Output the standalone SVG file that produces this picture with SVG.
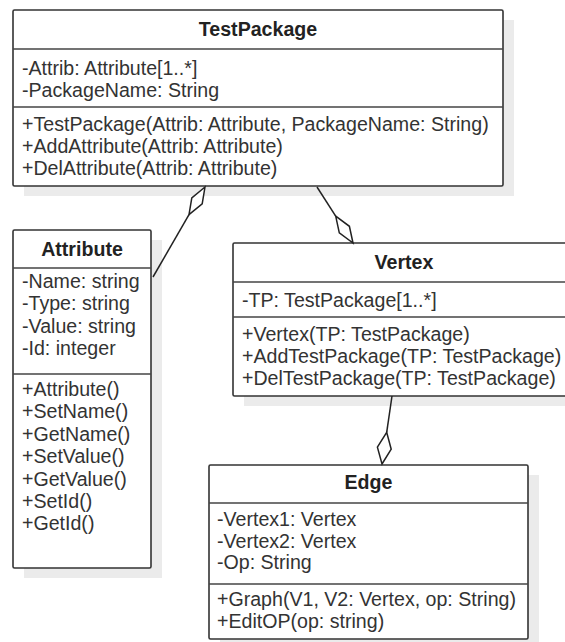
<svg xmlns="http://www.w3.org/2000/svg" width="565" height="642" viewBox="0 0 565 642">
  <style>
    .sh{fill:#ebebeb}
    .box{fill:#fff;stroke:#333;stroke-width:1.6}
    .sep{stroke:#444;stroke-width:1.6}
    .t{font-family:"Liberation Sans",Arial,sans-serif;font-size:19.6px;fill:#333}
    .h{font-weight:bold;text-anchor:middle;fill:#222}
    .conn{stroke:#222;stroke-width:1.5;fill:none}
    .dia{fill:#fff;stroke:#222;stroke-width:1.5;stroke-linejoin:miter}
  </style>
  <rect width="565" height="642" fill="#fff"/>

  <g id="TestPackage">
    <rect class="sh" x="24" y="20" width="490" height="176"/>
    <rect class="box" x="13" y="10" width="490" height="176" rx="1.5"/>
    <line class="sep" x1="13" y1="49" x2="503" y2="49"/>
    <line class="sep" x1="13" y1="107" x2="503" y2="107"/>
    <text class="t h" x="258" y="36">TestPackage</text>
    <text class="t" x="22" y="75">-Attrib: Attribute[1..*]</text>
    <text class="t" x="22" y="97">-PackageName: String</text>
    <text class="t" x="22" y="131">+TestPackage(Attrib: Attribute, PackageName: String)</text>
    <text class="t" x="22" y="153">+AddAttribute(Attrib: Attribute)</text>
    <text class="t" x="22" y="175">+DelAttribute(Attrib: Attribute)</text>
  </g>

  <g id="Attribute">
    <rect class="sh" x="24" y="240" width="138" height="338"/>
    <rect class="box" x="13" y="230" width="138" height="338" rx="1.5"/>
    <line class="sep" x1="13" y1="268" x2="151" y2="268"/>
    <line class="sep" x1="13" y1="374" x2="151" y2="374"/>
    <text class="t h" x="82" y="256">Attribute</text>
    <text class="t" x="22" y="288">-Name: string</text>
    <text class="t" x="22" y="310">-Type: string</text>
    <text class="t" x="22" y="333">-Value: string</text>
    <text class="t" x="22" y="355">-Id: integer</text>
    <text class="t" x="22" y="396">+Attribute()</text>
    <text class="t" x="22" y="418">+SetName()</text>
    <text class="t" x="22" y="441">+GetName()</text>
    <text class="t" x="22" y="463">+SetValue()</text>
    <text class="t" x="22" y="486">+GetValue()</text>
    <text class="t" x="22" y="508">+SetId()</text>
    <text class="t" x="22" y="530">+GetId()</text>
  </g>

  <g id="Vertex">
    <rect class="sh" x="244" y="253" width="343" height="153"/>
    <rect class="box" x="233" y="243" width="343" height="153" rx="1.5"/>
    <line class="sep" x1="233" y1="282" x2="576" y2="282"/>
    <line class="sep" x1="233" y1="317" x2="576" y2="317"/>
    <text class="t h" x="404" y="269">Vertex</text>
    <text class="t" x="242" y="307">-TP: TestPackage[1..*]</text>
    <text class="t" x="242" y="341">+Vertex(TP: TestPackage)</text>
    <text class="t" x="242" y="363">+AddTestPackage(TP: TestPackage)</text>
    <text class="t" x="242" y="385">+DelTestPackage(TP: TestPackage)</text>
  </g>

  <g id="Edge">
    <rect class="sh" x="220" y="475" width="319" height="174"/>
    <rect class="box" x="209" y="465" width="319" height="174" rx="1.5"/>
    <line class="sep" x1="209" y1="503" x2="528" y2="503"/>
    <line class="sep" x1="209" y1="584" x2="528" y2="584"/>
    <text class="t h" x="368.5" y="489">Edge</text>
    <text class="t" x="217" y="526">-Vertex1: Vertex</text>
    <text class="t" x="217" y="548">-Vertex2: Vertex</text>
    <text class="t" x="217" y="569">-Op: String</text>
    <text class="t" x="217" y="606">+Graph(V1, V2: Vertex, op: String)</text>
    <text class="t" x="217" y="628">+EditOP(op: string)</text>
  </g>

  <!-- aggregation links, drawn over the shadows (hollow diamond at the whole end) -->
  <g id="connectors">
    <path class="conn" d="M189,214.7 L153,277"/>
    <polygon class="dia" points="205,187 202.2,203.9 189,214.7 191.8,197.9"/>
    <path class="conn" d="M335.7,216.1 L317,187"/>
    <polygon class="dia" points="353,243 349.4,226.3 335.7,216.1 339.3,232.8"/>
    <path class="conn" d="M386.7,432.3 L392,396"/>
    <polygon class="dia" points="382,464 391.2,449.2 386.7,432.3 377.4,447.2"/>
  </g>
</svg>
